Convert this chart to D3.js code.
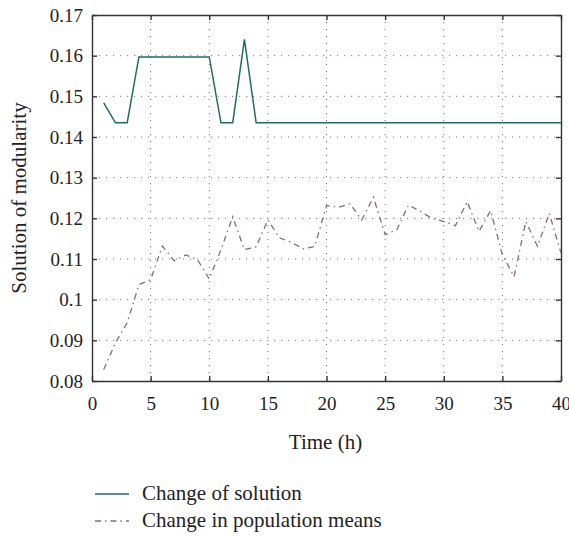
<html>
<head>
<meta charset="utf-8">
<style>
  body { margin: 0; background: #fff; }
  svg text { font-family: "Liberation Serif", "DejaVu Serif", serif; fill: #222; }
</style>
</head>
<body>
<div id="chart"></div>
<script src="https://cdn.jsdelivr.net/npm/d3@7"></script>
<script>
(function(){
  var hours = d3.range(1, 41);
  var solution = [0.1484, 0.1435, 0.1435, 0.1597, 0.1597, 0.1597, 0.1597, 0.1597, 0.1597, 0.1597,
                  0.1435, 0.1435, 0.1640, 0.1435, 0.1435, 0.1435, 0.1435, 0.1435, 0.1435, 0.1435,
                  0.1435, 0.1435, 0.1435, 0.1435, 0.1435, 0.1435, 0.1435, 0.1435, 0.1435, 0.1435,
                  0.1435, 0.1435, 0.1435, 0.1435, 0.1435, 0.1435, 0.1435, 0.1435, 0.1435, 0.1435];
  var popMeans = [0.0828, 0.0894, 0.0943, 0.1037, 0.1049, 0.1132, 0.1096, 0.1110, 0.1098, 0.1051,
                  0.1123, 0.1204, 0.1123, 0.1130, 0.1196, 0.1152, 0.1141, 0.1125, 0.1131, 0.1231,
                  0.1227, 0.1236, 0.1196, 0.1252, 0.1160, 0.1172, 0.1233, 0.1217, 0.1200, 0.1192,
                  0.1182, 0.1241, 0.1168, 0.1219, 0.1110, 0.1057, 0.1192, 0.1131, 0.1212, 0.1115];
  var xTicks = [0, 5, 10, 15, 20, 25, 30, 35, 40];
  var yTicks = [0.08, 0.09, 0.1, 0.11, 0.12, 0.13, 0.14, 0.15, 0.16, 0.17];
  var seriesNames = ["Change of solution", "Change in population means"];

  var W = 569, H = 537,
      m = {left: 92, top: 15, right: 8},
      pw = W - m.left - m.right,
      ph = 366;
  var serif = "'Liberation Serif', 'DejaVu Serif', serif";

  var svg = d3.select("#chart").append("svg")
    .attr("width", W).attr("height", H);
  var g = svg.append("g").attr("transform", "translate(" + m.left + "," + m.top + ")");

  var x = d3.scaleLinear().domain([0, 40]).range([0, pw]);
  var y = d3.scaleLinear().domain([0.08, 0.17]).range([ph, 0]);

  // dotted grid
  g.append("g").selectAll("line").data(xTicks.slice(1, -1)).enter().append("line")
    .attr("x1", function(d){ return x(d); }).attr("x2", function(d){ return x(d); })
    .attr("y1", 0).attr("y2", ph)
    .attr("stroke", "#777").attr("stroke-width", 1).attr("stroke-dasharray", "1.2,5.8");
  g.append("g").selectAll("line").data(yTicks.slice(1, -1)).enter().append("line")
    .attr("y1", function(d){ return y(d); }).attr("y2", function(d){ return y(d); })
    .attr("x1", 0).attr("x2", pw)
    .attr("stroke", "#777").attr("stroke-width", 1).attr("stroke-dasharray", "1.2,5.8");

  // axes, ticks inward on all four sides
  var fmt = function(d){ return String(+d.toFixed(2)); };
  var xb = g.append("g").attr("transform", "translate(0," + ph + ")")
    .call(d3.axisBottom(x).tickValues(xTicks).tickSizeInner(-5).tickSizeOuter(0).tickPadding(16));
  var yl = g.append("g")
    .call(d3.axisLeft(y).tickValues(yTicks).tickSizeInner(-5).tickSizeOuter(0).tickPadding(9).tickFormat(fmt));
  var xt = g.append("g")
    .call(d3.axisTop(x).tickValues(xTicks).tickSizeInner(-5).tickSizeOuter(0).tickFormat(""));
  var yr = g.append("g").attr("transform", "translate(" + pw + ",0)")
    .call(d3.axisRight(y).tickValues(yTicks).tickSizeInner(-5).tickSizeOuter(0).tickFormat(""));
  [xb, yl, xt, yr].forEach(function(a){
    a.attr("font-family", serif);
    a.selectAll("path").attr("stroke", "#333").attr("stroke-width", 1.4);
    a.selectAll("line").attr("stroke", "#333").attr("stroke-width", 1.4);
    a.selectAll("text").attr("font-size", 19).attr("fill", "#222");
  });

  // series
  var line = d3.line()
    .x(function(d){ return x(d[0]); })
    .y(function(d){ return y(d[1]); });

  g.append("path")
    .datum(hours.map(function(h, i){ return [h, popMeans[i]]; }))
    .attr("d", line).attr("fill", "none")
    .attr("stroke", "#8a6a70").attr("stroke-width", 1.3)
    .attr("stroke-dasharray", "6,4,1.5,4");

  g.append("path")
    .datum(hours.map(function(h, i){ return [h, solution[i]]; }))
    .attr("d", line).attr("fill", "none")
    .attr("stroke", "#1f6b68").attr("stroke-width", 1.5);

  // axis titles
  svg.append("text").attr("x", m.left + pw / 2 - 1).attr("y", 449)
    .attr("text-anchor", "middle").attr("font-size", 21).attr("font-family", serif)
    .text("Time (h)");
  svg.append("text").attr("transform", "translate(26," + (m.top + ph / 2) + ") rotate(-90)")
    .attr("text-anchor", "middle").attr("font-size", 21).attr("font-family", serif)
    .text("Solution of modularity");

  // legend
  var leg = svg.append("g").attr("transform", "translate(95,494)");
  var styles = [{c: "#1f6b68", dash: null}, {c: "#8a6a70", dash: "6,4,1.5,4"}];
  seriesNames.forEach(function(name, i){
    var row = leg.append("g").attr("transform", "translate(0," + (i * 27) + ")");
    row.append("line").attr("x1", 0).attr("x2", 34).attr("y1", 0).attr("y2", 0)
      .attr("stroke", styles[i].c).attr("stroke-width", 1.4)
      .attr("stroke-dasharray", styles[i].dash);
    row.append("text").attr("x", 47).attr("y", 6).attr("font-size", 21)
      .attr("font-family", serif).text(name);
  });
})();
</script>
</body>
</html>
